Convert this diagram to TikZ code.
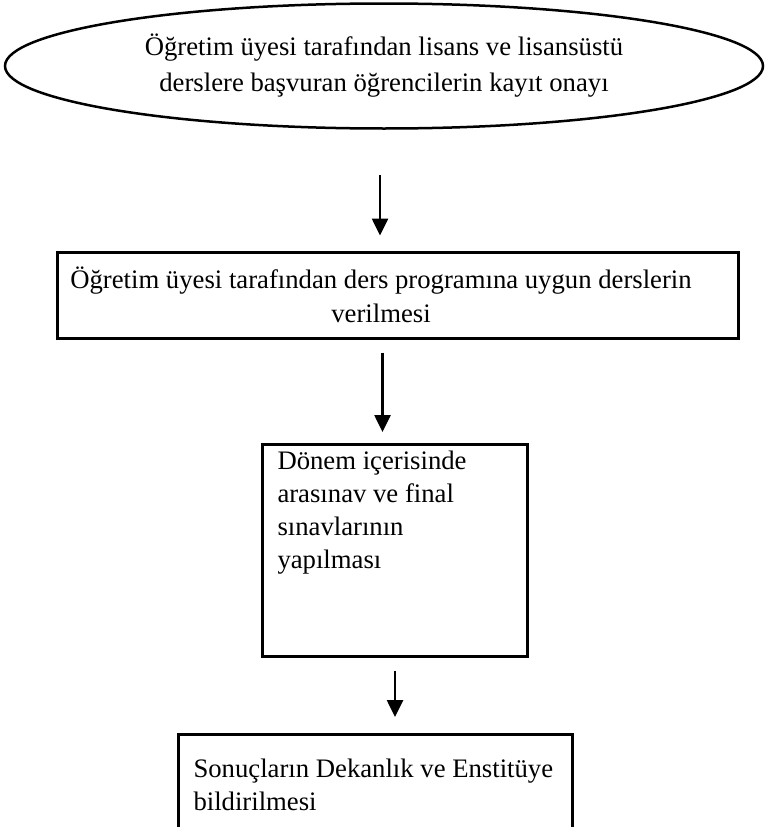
\documentclass[tikz,border=0pt]{standalone}
\usepackage{fontspec}
\setmainfont{Liberation Serif}
\usetikzlibrary{shapes.geometric, arrows.meta}

\begin{document}
\begin{tikzpicture}[x=1pt, y=-1pt, font=\fontsize{26.7}{33}\selectfont]

        % Styles
        \tikzstyle{startbox} = [draw=black, line width=2.5pt, ellipse, inner sep=0pt, align=center]
        \tikzstyle{stepbox} = [draw=black, line width=3pt, rectangle]
        \tikzstyle{flow} = [line width=2.6pt, -{Triangle[length=17pt, width=16pt]}]

        % Page (Reference Size)
        \clip (0,0) rectangle (765,827);

        % Registration Approval
        \node[startbox, minimum width=758, minimum height=125, font=\fontsize{26.7}{36}\selectfont] (approval) at (384,66)
            {Öğretim üyesi tarafından lisans ve lisansüstü\\derslere başvuran öğrencilerin kayıt onayı};

        % Lectures
        \node[stepbox, minimum width=681, minimum height=86, inner sep=0pt, font=\fontsize{26.7}{34}\selectfont] (lectures) at (397.5,295)
            {\makebox[681pt][l]{\parbox{648pt}{\centering Öğretim üyesi tarafından ders programına uygun derslerin\\verilmesi}}};

        % Exams
        \node[stepbox, anchor=north west, inner xsep=15pt, inner ysep=6pt] (exams) at (261,443)
            {\parbox[t][200pt][t]{235pt}{\raggedright Dönem içerisinde\\arasınav ve final\\sınavlarının\\yapılması}};

        % Results
        \node[stepbox, anchor=north west, inner xsep=15pt, inner ysep=24pt] (results) at (177,733)
            {\parbox[t][120pt][t]{364pt}{\raggedright Sonuçların Dekanlık ve Enstitüye\\bildirilmesi}};

        % Flow
        \draw[flow] ([shift={(-4,45)}]approval.south) -- ([shift={(-4,-15)}]approval.south |- lectures.north);
        \draw[flow] ([shift={(-15,13)}]lectures.south) -- ([shift={(-15,-11)}]lectures.south |- exams.north);
        \draw[flow] ([shift={(0,13)}]exams.south) -- ([shift={(0,-16)}]exams.south |- results.north);

    \end{tikzpicture}
\end{document}
